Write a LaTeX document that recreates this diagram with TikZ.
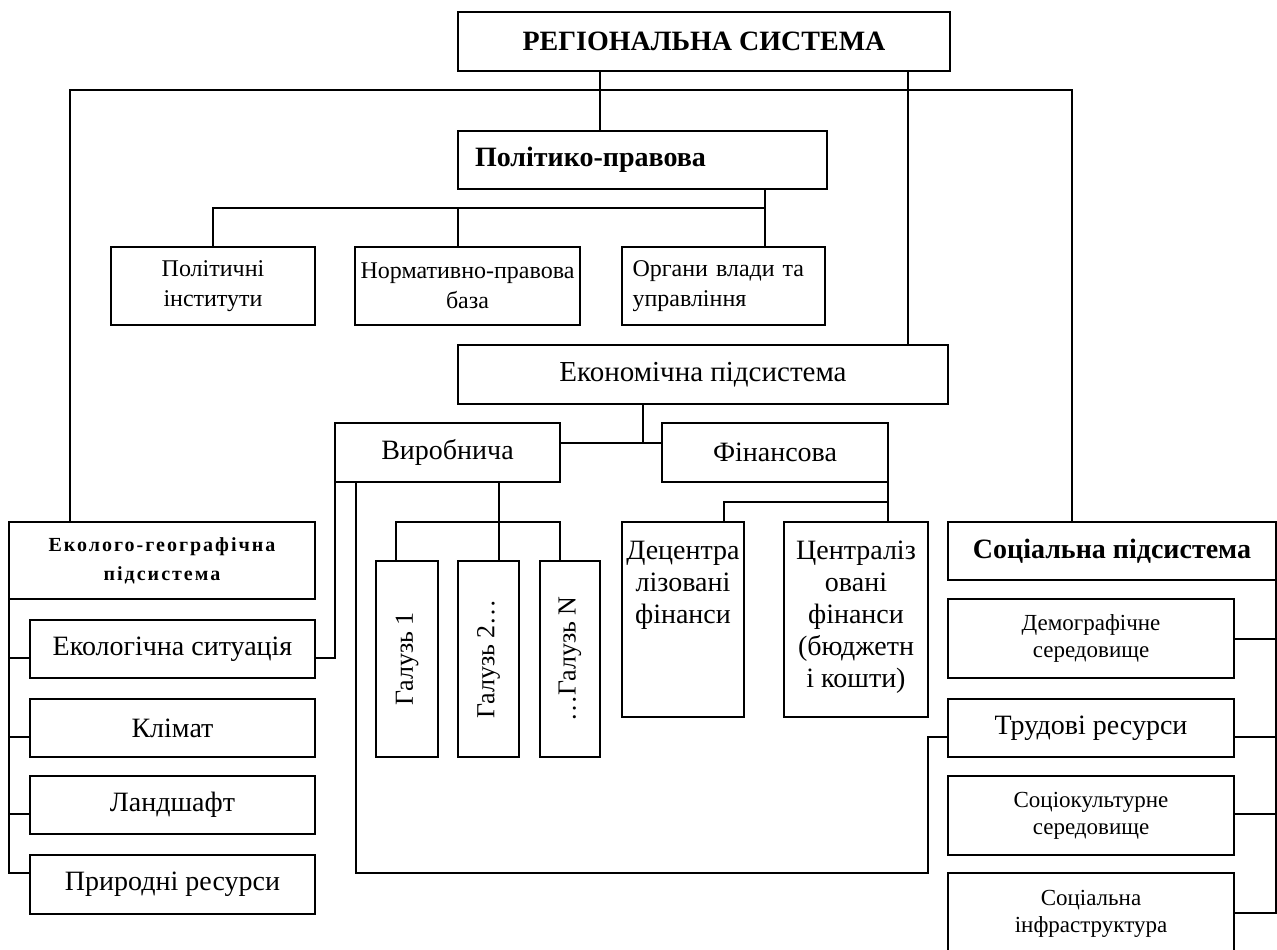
\documentclass[tikz,border=0pt]{standalone}
\usepackage{fontspec}
\setmainfont{Liberation Serif}
\newfontfamily\rozr[LetterSpace=10]{Liberation Serif}
\usetikzlibrary{positioning}

\begin{document}
\begin{tikzpicture}[x=1pt, y=-1pt, line width=1.6pt,
    blok/.style={draw, inner sep=0pt, outer sep=0pt, align=center},
    velyk/.style={font=\fontsize{28}{32}\selectfont},
    zhyrn/.style={font=\fontsize{28}{32}\selectfont\bfseries},
    dribn/.style={font=\fontsize{24}{30}\selectfont},
    mal/.style={font=\fontsize{23}{27}\selectfont}]
    \useasboundingbox (0,0) rectangle (1277,950);
    \clip (0,0) rectangle (1277,950);
    % verkh
    \node[blok, zhyrn, minimum width=492pt, minimum height=59pt] (reg) at (704,41.5) {РЕГІОНАЛЬНА СИСТЕМА};
    \node[blok, zhyrn, minimum width=369pt, minimum height=58pt, text width=335pt, align=left] (pol) at (642.5,160) {Політико-правова};
    \node[blok, dribn, minimum width=204pt, minimum height=78pt] (polit) at (213,286) {Політичні\\інститути};
    \node[blok, dribn, minimum width=225pt, minimum height=78pt] (norm) at (467.5,286) {Нормативно-правова\\база};
    \node[blok, dribn, minimum width=203pt, minimum height=78pt, text width=182pt, align=left] (org) at (723.5,286) {Органи влади та\\управління};
    % ekonomika
    \node[blok, font=\fontsize{29}{32}\selectfont, minimum width=490pt, minimum height=59pt] (eko) at (703,374.5) {Економічна підсистема};
    \node[blok, velyk, minimum width=225pt, minimum height=59pt] (vyr) at (447.5,452.5) {Виробнича};
    \node[blok, velyk, minimum width=226pt, minimum height=59pt] (fin) at (775,452.5) {Фінансова};
    \node[blok, font=\fontsize{26}{30}\selectfont, minimum width=62pt, minimum height=196pt] (g1) at (407,659) {\rotatebox{90}{Галузь 1}};
    \node[blok, font=\fontsize{26}{30}\selectfont, minimum width=61pt, minimum height=196pt] (g2) at (488.5,659) {\rotatebox{90}{Галузь 2\ldots}};
    \node[blok, font=\fontsize{26}{30}\selectfont, minimum width=60pt, minimum height=196pt] (gN) at (570,659) {\rotatebox{90}{\ldots Галузь N}};
    \node[blok, minimum width=122pt, minimum height=195pt] (dec) at (683,619.5) {};
    \node[velyk, align=center, inner sep=0pt, below=18pt of dec.north] (dect) {Децентра\\лізовані\\фінанси};
    \node[blok, minimum width=144pt, minimum height=195pt] (cen) at (856,619.5) {};
    \node[velyk, align=center, inner sep=0pt, below=18pt of cen.north] (cent) {Централіз\\овані\\фінанси\\(бюджетн\\і кошти)};
    % ekologiya
    \node[blok, font=\rozr\fontsize{20}{29}\selectfont\bfseries, minimum width=306pt, minimum height=77pt] (eco) at (162,560.5) {Еколого-географічна\\підсистема};
    \node[blok, velyk, minimum width=285pt, minimum height=58pt] (eks) at (172.5,649) {Екологічна ситуація};
    \node[blok, velyk, minimum width=285pt, minimum height=58pt] (klim) at (172.5,728) {Клімат};
    \node[blok, velyk, minimum width=285pt, minimum height=58pt] (land) at (172.5,805) {Ландшафт};
    \node[blok, velyk, minimum width=285pt, minimum height=59pt] (pryr) at (172.5,884.5) {Природні ресурси};
    % sotsium
    \node[blok, zhyrn, minimum width=328pt, minimum height=58pt] (soc) at (1112,551) {Соціальна підсистема};
    \node[blok, mal, minimum width=286pt, minimum height=79pt] (dem) at (1091,638.5) {Демографічне\\середовище};
    \node[blok, velyk, minimum width=286pt, minimum height=58pt] (trud) at (1091,728) {Трудові ресурси};
    \node[blok, mal, minimum width=286pt, minimum height=79pt] (sock) at (1091,815.5) {Соціокультурне\\середовище};
    \node[blok, mal, minimum width=286pt, minimum height=82pt] (infr) at (1091,914) {Соціальна\\інфраструктура};

    \coordinate (bus) at (600,90);
    \coordinate (pbus) at (765,208);
    \coordinate (ebus) at (643,443);
    \coordinate (petlya) at (928,873);
    \draw ([xshift=142pt]reg.south west) -- ([xshift=142pt]pol.north west);
    \draw ([xshift=61pt]eco.north west) |- (bus) -| ([xshift=124pt]soc.north west);
    \draw ([xshift=450pt]reg.south west) -- ([xshift=450pt]eko.north west);
    \draw ([xshift=307pt]pol.south west) -- ([xshift=143pt]org.north west);
    \draw (polit.north) |- (pbus);
    \draw ([xshift=103pt]norm.north west) |- (pbus);
    \draw ([xshift=185pt]eko.south west) -- (ebus);
    \draw ([yshift=9.5pt]vyr.east) -- ([yshift=9.5pt]fin.west);
    \draw ([xshift=164pt]vyr.south west) -- ([xshift=41pt]g2.north west);
    \draw ([xshift=20pt]g1.north west) -- ++(0,-39) -| ([xshift=20pt]gN.north west);
    \draw (vyr.south west) |- ([yshift=-9pt]eks.east);
    \draw ([xshift=21pt]vyr.south west) |- (petlya) |- ([yshift=-9pt]trud.west);
    \draw (fin.south east) -- ([xshift=104pt]cen.north west);
    \draw ([xshift=102pt]dec.north west) -- ++(0,-20) -| (fin.south east);
    \foreach \n/\s in {eks/-9, klim/-9, land/-9, pryr/11.5}
        \draw (eco.south west) |- ([yshift=\s pt]\n.west);
    \foreach \n/\s in {dem/-0.5, trud/-9, sock/1.5, infr/1}
        \draw (soc.south east) |- ([yshift=\s pt]\n.east);
\end{tikzpicture}
\end{document}
